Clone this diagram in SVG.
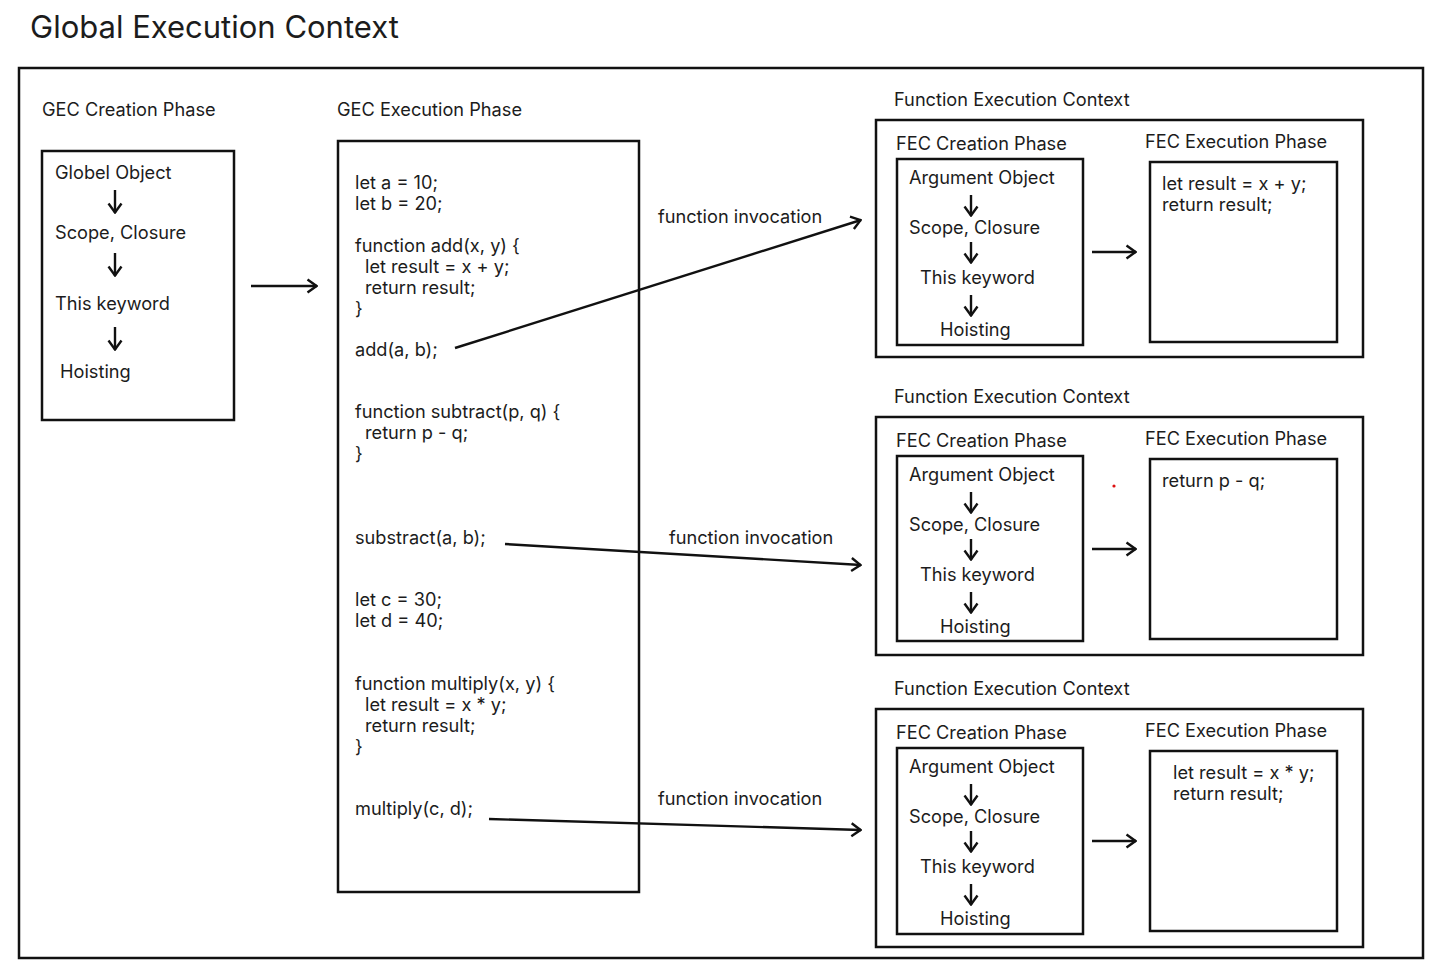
<svg xmlns="http://www.w3.org/2000/svg" width="1438" height="974" viewBox="0 0 1438 974">
<defs>
<marker id="chev" viewBox="0 0 12 16" refX="11" refY="8" markerWidth="12" markerHeight="16" markerUnits="userSpaceOnUse" orient="auto">
<path d="M1.5,1.5 L10.5,8 L1.5,14.5" fill="none" stroke="#111" stroke-width="2.4"/>
</marker>
<style>
text{font-family:Inter,"Liberation Sans",sans-serif;fill:#1c1c1c}
.t{font-size:31px}
.l{font-size:18.2px}
.c{font-size:18.2px}
.box{fill:none;stroke:#111;stroke-width:2.5}
.ar{fill:none;stroke:#111;stroke-width:2.4;marker-end:url(#chev)}
</style>
</defs>
<rect width="1438" height="974" fill="#fff"/>
<text class="t" x="30" y="38">Global Execution Context</text>
<rect class="box" x="19" y="68" width="1404" height="890"/>

<g id="gec-creation">
<text class="l" x="42" y="116">GEC Creation Phase</text>
<rect class="box" x="42" y="151" width="192" height="269"/>
<text class="l" x="55" y="179">Globel Object</text>
<path class="ar" d="M115,190 V213"/>
<text class="l" x="55" y="239">Scope, Closure</text>
<path class="ar" d="M115,253 V276"/>
<text class="l" x="55" y="310">This keyword</text>
<path class="ar" d="M115,327 V350"/>
<text class="l" x="60" y="378">Hoisting</text>
</g>

<g id="gec-execution">
<text class="l" x="337" y="116">GEC Execution Phase</text>
<rect class="box" x="338" y="141" width="301" height="751"/>
<text class="c" x="355" y="189">let a = 10;</text>
<text class="c" x="355" y="210">let b = 20;</text>
<text class="c" x="355" y="252">function add(x, y) {</text>
<text class="c" x="365" y="273">let result = x + y;</text>
<text class="c" x="365" y="294">return result;</text>
<text class="c" x="355" y="315">}</text>
<text class="c" x="355" y="356">add(a, b);</text>
<text class="c" x="355" y="418">function subtract(p, q) {</text>
<text class="c" x="365" y="439">return p - q;</text>
<text class="c" x="355" y="460">}</text>
<text class="c" x="355" y="544">substract(a, b);</text>
<text class="c" x="355" y="606">let c = 30;</text>
<text class="c" x="355" y="627">let d = 40;</text>
<text class="c" x="355" y="690">function multiply(x, y) {</text>
<text class="c" x="365" y="711">let result = x * y;</text>
<text class="c" x="365" y="732">return result;</text>
<text class="c" x="355" y="753">}</text>
<text class="c" x="355" y="815">multiply(c, d);</text>
</g>

<g id="fec-1">
<text class="l" x="894" y="106">Function Execution Context</text>
<rect class="box" x="876" y="120" width="487" height="237"/>
<text class="l" x="896" y="150">FEC Creation Phase</text>
<rect class="box" x="897" y="159" width="186" height="186"/>
<text class="l" x="909" y="184">Argument Object</text>
<path class="ar" d="M971,195 V216"/>
<text class="l" x="909" y="234">Scope, Closure</text>
<path class="ar" d="M971,242 V263"/>
<text class="l" x="920" y="284">This keyword</text>
<path class="ar" d="M971,295 V316"/>
<text class="l" x="940" y="336">Hoisting</text>
<path class="ar" d="M1092,252 H1136"/>
<text class="l" x="1145" y="148">FEC Execution Phase</text>
<rect class="box" x="1150" y="162" width="187" height="180"/>
<text class="c" x="1162" y="190">let result = x + y;</text>
<text class="c" x="1162" y="211">return result;</text>
</g>

<g id="fec-2">
<text class="l" x="894" y="403">Function Execution Context</text>
<rect class="box" x="876" y="417" width="487" height="238"/>
<text class="l" x="896" y="447">FEC Creation Phase</text>
<rect class="box" x="897" y="456" width="186" height="185"/>
<text class="l" x="909" y="481">Argument Object</text>
<path class="ar" d="M971,492 V513"/>
<text class="l" x="909" y="531">Scope, Closure</text>
<path class="ar" d="M971,539 V560"/>
<text class="l" x="920" y="581">This keyword</text>
<path class="ar" d="M971,592 V613"/>
<text class="l" x="940" y="633">Hoisting</text>
<path class="ar" d="M1092,549 H1136"/>
<circle cx="1114" cy="486" r="1.6" fill="#d11"/>
<text class="l" x="1145" y="445">FEC Execution Phase</text>
<rect class="box" x="1150" y="459" width="187" height="180"/>
<text class="c" x="1162" y="487">return p - q;</text>
</g>

<g id="fec-3">
<text class="l" x="894" y="695">Function Execution Context</text>
<rect class="box" x="876" y="709" width="487" height="238"/>
<text class="l" x="896" y="739">FEC Creation Phase</text>
<rect class="box" x="897" y="748" width="186" height="186"/>
<text class="l" x="909" y="773">Argument Object</text>
<path class="ar" d="M971,784 V805"/>
<text class="l" x="909" y="823">Scope, Closure</text>
<path class="ar" d="M971,831 V852"/>
<text class="l" x="920" y="873">This keyword</text>
<path class="ar" d="M971,884 V905"/>
<text class="l" x="940" y="925">Hoisting</text>
<path class="ar" d="M1092,841 H1136"/>
<text class="l" x="1145" y="737">FEC Execution Phase</text>
<rect class="box" x="1150" y="751" width="187" height="180"/>
<text class="c" x="1173" y="779">let result = x * y;</text>
<text class="c" x="1173" y="800">return result;</text>
</g>

<g id="connectors">
<path class="ar" d="M251,286 H317"/>
<path class="ar" d="M455,348 L861,220"/>
<text class="l" x="658" y="223">function invocation</text>
<path class="ar" d="M505,544 L861,565"/>
<text class="l" x="669" y="544">function invocation</text>
<path class="ar" d="M489,819 L861,830"/>
<text class="l" x="658" y="805">function invocation</text>
</g>
</svg>
